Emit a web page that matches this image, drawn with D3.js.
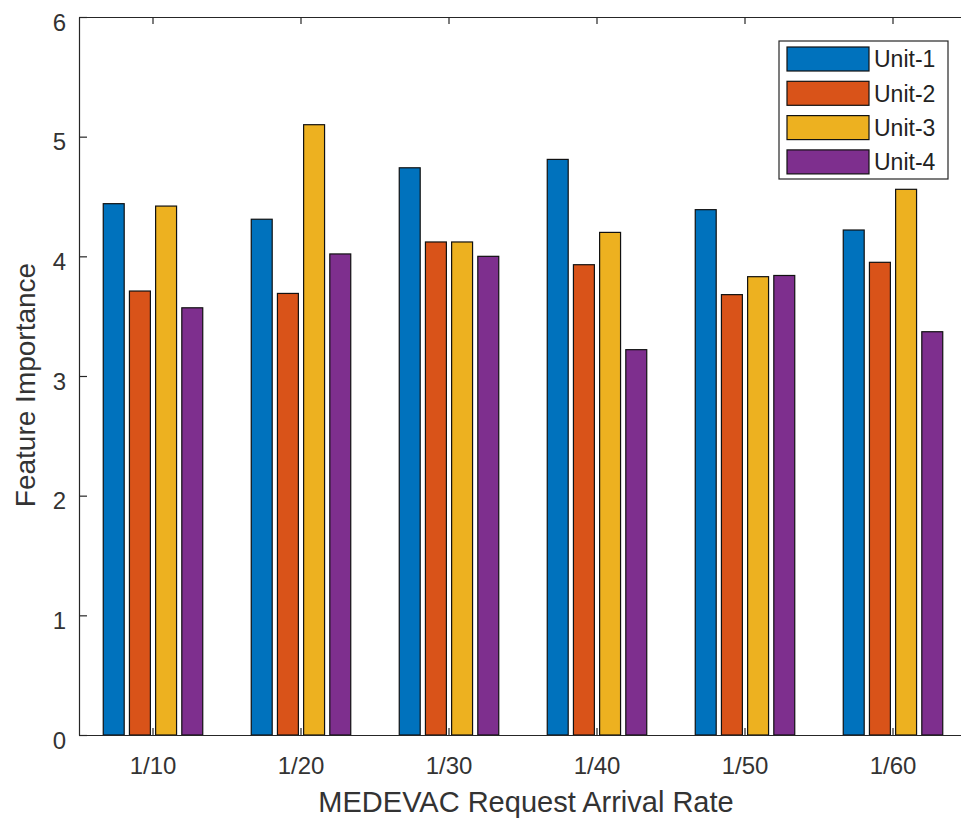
<!DOCTYPE html>
<html>
<head>
<meta charset="utf-8">
<script src="https://cdn.jsdelivr.net/npm/d3@7"></script>
<style>
  body { margin: 0; background: #fff; }
  svg { display: block; font-family: "Liberation Sans", Arial, sans-serif; }
</style>
</head>
<body>
<svg id="chart" width="961" height="821"></svg>
<script>
// data
const categories = ["1/10", "1/20", "1/30", "1/40", "1/50", "1/60"];
const series = ["Unit-1", "Unit-2", "Unit-3", "Unit-4"];
const unit1 = [4.44, 4.31, 4.74, 4.81, 4.39, 4.22];
const unit2 = [3.71, 3.69, 4.12, 3.93, 3.68, 3.95];
const unit3 = [4.42, 5.10, 4.12, 4.20, 3.83, 4.56];
const unit4 = [3.57, 4.02, 4.00, 3.22, 3.84, 3.37];
const yTicks = [0, 1, 2, 3, 4, 5, 6];
const colors = ["#0072BD", "#D95319", "#EDB120", "#7E2F8E"];

const values = [unit1, unit2, unit3, unit4];
const rows = categories.map((c, i) => ({
    cat: c,
    vals: series.map((s, j) => ({ key: s, value: values[j][i], color: colors[j] }))
}));

const svg = d3.select("#chart");
const margin = { top: 17, left: 79, right: 967, bottom: 735 };
const axisColor = "#262626";

const x = d3.scaleBand()
    .domain(categories)
    .range([margin.left, margin.right])
    .padding(0);

const groupW = x.bandwidth() * 0.743;
const xs = d3.scaleBand()
    .domain(series)
    .range([-groupW / 2, groupW / 2])
    .padding(0.2);

const y = d3.scaleLinear()
    .domain([0, 6])
    .range([margin.bottom, margin.top]);

// bars
const groups = svg.append("g")
    .selectAll("g")
    .data(rows)
    .join("g")
    .attr("transform", d => `translate(${x(d.cat) + x.bandwidth() / 2},0)`);

groups.selectAll("rect")
    .data(d => d.vals)
    .join("rect")
    .attr("x", d => xs(d.key))
    .attr("width", xs.bandwidth())
    .attr("y", d => y(d.value))
    .attr("height", d => y(0) - y(d.value))
    .attr("fill", d => d.color)
    .attr("stroke", "#111")
    .attr("stroke-width", 1.2);

// axes (ticks point inward like matlab)
const xAxis = g => g
    .attr("transform", `translate(0,${margin.bottom})`)
    .call(d3.axisBottom(x).tickSize(-7).tickPadding(22).tickSizeOuter(0))
    .call(g => g.selectAll("text").attr("font-size", 24).attr("fill", "#333"));

const xTop = g => g
    .attr("transform", `translate(0,${margin.top})`)
    .call(d3.axisTop(x).tickSize(-7).tickSizeOuter(0).tickFormat(""));

const yAxis = g => g
    .attr("transform", `translate(${margin.left},0)`)
    .call(d3.axisLeft(y).tickValues(yTicks).tickFormat(d3.format("d"))
        .tickSize(-8).tickPadding(13).tickSizeOuter(0))
    .call(g => g.selectAll("text").attr("font-size", 24).attr("fill", "#333").attr("dy", "0.55em"));

svg.append("g").call(xAxis);
svg.append("g").call(xTop);
svg.append("g").call(yAxis);
svg.selectAll(".domain, .tick line").attr("stroke", axisColor).attr("stroke-width", 1.2);

// axis titles
svg.append("text")
    .attr("x", (margin.left + margin.right) / 2 + 3)
    .attr("y", 812)
    .attr("text-anchor", "middle")
    .attr("font-size", 29)
    .attr("fill", "#333")
    .text("MEDEVAC Request Arrival Rate");

svg.append("text")
    .attr("transform", `translate(35,385) rotate(-90)`)
    .attr("text-anchor", "middle")
    .attr("font-size", 28)
    .attr("fill", "#333")
    .text("Feature Importance");

// legend
const legend = svg.append("g").attr("transform", "translate(779,41)");
legend.append("rect")
    .attr("width", 169).attr("height", 138)
    .attr("fill", "#fff").attr("stroke", axisColor).attr("stroke-width", 1.2);

const item = legend.selectAll("g.item")
    .data(series)
    .join("g")
    .attr("class", "item")
    .attr("transform", (d, i) => `translate(8,${6 + i * 34.3})`);

item.append("rect")
    .attr("width", 82).attr("height", 24)
    .attr("fill", (d, i) => colors[i])
    .attr("stroke", "#111").attr("stroke-width", 1.2);

item.append("text")
    .attr("x", 87).attr("y", 12).attr("dy", "0.36em")
    .attr("font-size", 23)
    .attr("fill", "#222")
    .text(d => d);
</script>
</body>
</html>
